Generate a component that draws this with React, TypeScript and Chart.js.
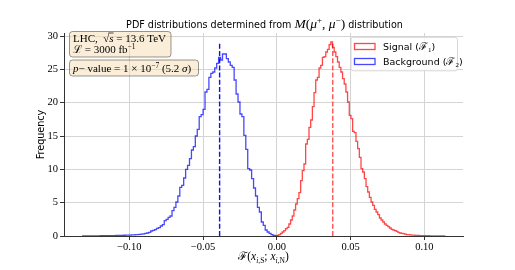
import React, { useEffect, useRef } from "react";
import { Chart, registerables } from "chart.js";
Chart.register(...registerables);

// ---------------- data ----------------
const BLUE_START = -0.1316;
const BLUE_WIDTH = 0.001316;
const BLUE_COUNTS = [
  0.02, 0.02, 0.02, 0.02, 0.03, 0.02, 0.03, 0.03, 0.03, 0.04,
  0.04, 0.05, 0.04, 0.05, 0.06, 0.06, 0.07, 0.08, 0.08, 0.09,
  0.10, 0.11, 0.12, 0.12, 0.14, 0.16, 0.18, 0.2, 0.22, 0.25,
  0.28, 0.33, 0.38, 0.45, 0.55, 0.75, 0.85, 0.95, 1.15, 1.25,
  1.5, 1.7, 2.3, 2.5, 2.8, 3.0, 3.8, 4.3, 5.1, 6.0,
  7.3, 7.6, 8.7, 10.0, 10.6, 11.6, 12.9, 13.4, 15.0, 16.0,
  17.9, 18.2, 19.0, 21.6, 22.0, 23.8, 24.4, 24.6, 25.2, 25.9,
  26.8, 26.4, 27.3, 27.3, 26.6, 26.1, 25.6, 25.3, 23.4, 21.3,
  20.1, 18.3, 17.9, 15.1, 13.0, 10.1, 9.9, 8.6, 7.2, 6.0,
  4.3, 3.6, 2.1, 1.6, 0.9, 0.6, 0.4, 0.2, 0.1, 0.05,
];
const RED_START = 0.0002;
const RED_WIDTH = 0.001137;
const RED_COUNTS = [
  0.1, 0.2, 0.4, 0.6, 0.8, 1.1, 1.3, 1.8, 2.4, 3.0,
  3.9, 4.8, 5.6, 6.5, 8.3, 9.8, 10.8, 13.8, 14.5, 16.3,
  17.4, 19.4, 21.5, 23.4, 23.8, 25.2, 25.6, 26.8, 26.9, 27.6,
  28.0, 28.7, 29.1, 28.3, 27.6, 26.9, 26.1, 25.3, 24.6, 23.6,
  22.8, 21.6, 20.1, 18.1, 17.6, 15.7, 15.5, 14.2, 13.1, 11.8,
  10.1, 9.6, 8.6, 7.4, 6.6, 5.8, 5.1, 4.6, 4.0, 3.6,
  3.2, 2.7, 2.4, 2.1, 1.8, 1.6, 1.4, 1.2, 1.0, 0.9,
  0.8, 0.7, 0.55, 0.45, 0.4, 0.35, 0.28, 0.22, 0.2, 0.17,
  0.14, 0.12, 0.1, 0.09, 0.08, 0.07, 0.06, 0.05, 0.05, 0.04,
  0.04, 0.03, 0.03, 0.03, 0.02, 0.02, 0.02, 0.02, 0.01, 0.01,
];
const BLUE_MEAN = -0.0388;
const RED_MEAN = 0.0379;
const X_MIN = -0.1443;
const X_MAX = 0.1262;
const Y_MIN = 0;
const Y_MAX = 30.45;
const X_TICKS = [-0.1, -0.05, 0, 0.05, 0.1];
const Y_TICKS = [0, 5, 10, 15, 20, 25, 30];

// ---------------- styles ----------------
const SANS = '"DejaVu Sans"';
const SERIF = '"Liberation Serif"';
const BLUE = "rgba(0,0,255,0.72)";
const RED = "rgba(255,0,0,0.72)";

function stepPoints(start: number, width: number, counts: number[]) {
  const pts: { x: number; y: number }[] = [{ x: start, y: 0 }];
  counts.forEach((c, i) => pts.push({ x: start + i * width, y: c }));
  pts.push({ x: start + counts.length * width, y: 0 });
  return pts;
}

type Seg = { t: string; fam: string; size: number; italic?: boolean; dy?: number };
const fontStr = (s: Seg) => `${s.italic ? "italic " : ""}${s.size}px ${s.fam}`;
function measure(ctx: CanvasRenderingContext2D, segs: Seg[]) {
  let w = 0;
  for (const s of segs) {
    ctx.font = fontStr(s);
    w += ctx.measureText(s.t).width;
  }
  return w;
}
function drawRich(ctx: CanvasRenderingContext2D, segs: Seg[], x: number, y: number, align: "left" | "center") {
  const w = measure(ctx, segs);
  let cx = align === "center" ? x - w / 2 : x;
  ctx.textAlign = "left";
  ctx.textBaseline = "alphabetic";
  const xs: number[] = [];
  for (const s of segs) {
    ctx.font = fontStr(s);
    xs.push(cx);
    ctx.fillText(s.t, cx, y + (s.dy || 0));
    cx += ctx.measureText(s.t).width;
  }
  xs.push(cx);
  return xs;
}
function roundRect(ctx: CanvasRenderingContext2D, x: number, y: number, w: number, h: number, r: number) {
  ctx.beginPath();
  ctx.moveTo(x + r, y);
  ctx.lineTo(x + w - r, y);
  ctx.quadraticCurveTo(x + w, y, x + w, y + r);
  ctx.lineTo(x + w, y + h - r);
  ctx.quadraticCurveTo(x + w, y + h, x + w - r, y + h);
  ctx.lineTo(x + r, y + h);
  ctx.quadraticCurveTo(x, y + h, x, y + h - r);
  ctx.lineTo(x, y + r);
  ctx.quadraticCurveTo(x, y, x + r, y);
  ctx.closePath();
}

const fmtX = (v: number) => {
  const s = Math.abs(v).toFixed(2);
  return v < -1e-9 ? "\u2212" + s : s;
};

const annotPlugin = {
  id: "annot",
  afterDraw(chart: any) {
    const ctx: CanvasRenderingContext2D = chart.ctx;
    const a = chart.chartArea;
    ctx.save();
    ctx.fillStyle = "#000";

    // title
    drawRich(
      ctx,
      [
        { t: "PDF distributions determined from ", fam: SANS, size: 9.6 },
        { t: "M", fam: SERIF, size: 13.5, italic: true },
        { t: "(", fam: SERIF, size: 13.5 },
        { t: "\u03bc", fam: SERIF, size: 13.5, italic: true },
        { t: "+", fam: SERIF, size: 9, dy: -5 },
        { t: ", ", fam: SERIF, size: 13.5 },
        { t: "\u03bc", fam: SERIF, size: 13.5, italic: true },
        { t: "\u2212", fam: SERIF, size: 9, dy: -5 },
        { t: ")", fam: SERIF, size: 13.5 },
        { t: " distribution", fam: SANS, size: 9.6 },
      ],
      264.5,
      28.3,
      "center"
    );

    // x title
    drawRich(
      ctx,
      [
        { t: "\u2131", fam: SERIF, size: 11.5 },
        { t: "(", fam: SERIF, size: 11.5 },
        { t: "x", fam: SERIF, size: 11.5, italic: true },
        { t: "i", fam: SERIF, size: 7.5, italic: true, dy: 2.5 },
        { t: ",S", fam: SERIF, size: 7.5, dy: 2.5 },
        { t: "; ", fam: SERIF, size: 11.5 },
        { t: "x", fam: SERIF, size: 11.5, italic: true },
        { t: "i", fam: SERIF, size: 7.5, italic: true, dy: 2.5 },
        { t: ",N", fam: SERIF, size: 7.5, dy: 2.5 },
        { t: ")", fam: SERIF, size: 11.5 },
      ],
      (a.left + a.right) / 2,
      260,
      "center"
    );

    // y title
    ctx.save();
    ctx.translate(41, (a.top + a.bottom) / 2);
    ctx.rotate(-Math.PI / 2);
    ctx.font = `9.6px ${SANS}`;
    ctx.textAlign = "center";
    ctx.textBaseline = "middle";
    ctx.fillText("Frequency", 0, 0);
    ctx.restore();

    // text boxes
    const boxFill = "rgba(245,222,179,0.5)";
    const boxEdge = "rgba(0,0,0,0.4)";
    ctx.lineWidth = 1;
    roundRect(ctx, a.left + 5.5, a.top - 1.5, 101.5, 25.5, 3);
    ctx.fillStyle = boxFill;
    ctx.fill();
    ctx.strokeStyle = boxEdge;
    ctx.stroke();
    roundRect(ctx, a.left + 5.5, a.top + 27, 129, 16, 3);
    ctx.fillStyle = boxFill;
    ctx.fill();
    ctx.strokeStyle = boxEdge;
    ctx.stroke();

    ctx.fillStyle = "#000";
    const tx = a.left + 9;
    const xs = drawRich(
      ctx,
      [
        { t: "LHC,  ", fam: SERIF, size: 11 },
        { t: "\u221a", fam: SERIF, size: 11 },
        { t: "s", fam: SERIF, size: 11, italic: true },
        { t: " = 13.6 TeV", fam: SERIF, size: 11 },
      ],
      tx,
      a.top + 8.5,
      "left"
    );
    ctx.strokeStyle = "#000";
    ctx.lineWidth = 0.7;
    ctx.beginPath();
    ctx.moveTo(xs[1] + 5, a.top + 8.5 - 8.5);
    ctx.lineTo(xs[3], a.top + 8.5 - 8.5);
    ctx.stroke();
    drawRich(
      ctx,
      [
        { t: "\u2112", fam: SERIF, size: 11 },
        { t: " = 3000 fb", fam: SERIF, size: 11 },
        { t: "\u22121", fam: SERIF, size: 7.5, dy: -4 },
      ],
      tx,
      a.top + 19.5,
      "left"
    );
    drawRich(
      ctx,
      [
        { t: "p", fam: SERIF, size: 11, italic: true },
        { t: "\u2212 value = 1 \u00d7 10", fam: SERIF, size: 11 },
        { t: "\u22127", fam: SERIF, size: 7.5, dy: -4 },
        { t: " (5.2 ", fam: SERIF, size: 11 },
        { t: "\u03c3", fam: SERIF, size: 11, italic: true },
        { t: ")", fam: SERIF, size: 11 },
      ],
      tx,
      a.top + 39,
      "left"
    );

    // legend
    const lx = 351,
      ly = 37.3,
      lw = 106.5,
      lh = 33.5;
    roundRect(ctx, lx, ly, lw, lh, 2.5);
    ctx.fillStyle = "rgba(255,255,255,0.85)";
    ctx.fill();
    ctx.strokeStyle = "#d6d6d6";
    ctx.lineWidth = 1;
    ctx.stroke();
    const entries = [
      { c: RED, n: "1", label: "Signal (", y: 43 },
      { c: BLUE, n: "2", label: "Background (", y: 58 },
    ];
    for (const e of entries) {
      ctx.strokeStyle = e.c;
      ctx.lineWidth = 1.3;
      ctx.strokeRect(354.5, e.y + 0.5, 20.5, 6);
      ctx.fillStyle = "#000";
      drawRich(
        ctx,
        [
          { t: e.label, fam: SANS, size: 9.5 },
          { t: "\u2131", fam: SERIF, size: 10.5 },
          { t: e.n, fam: SERIF, size: 7, dy: 2 },
          { t: ")", fam: SANS, size: 9.5 },
        ],
        383,
        e.y + 6.8,
        "left"
      );
    }
    ctx.restore();
  },
};

export default function App() {
  const ref = useRef<HTMLCanvasElement | null>(null);
  useEffect(() => {
    if (!ref.current) return;
    const topY = Y_MIN + (Y_MAX - Y_MIN) * 0.95;
    const chart = new Chart(ref.current, {
      type: "line",
      data: {
        datasets: [
          {
            data: stepPoints(RED_START, RED_WIDTH, RED_COUNTS),
            borderColor: RED,
            borderWidth: 1.3,
            stepped: "before",
            pointRadius: 0,
            fill: false,
          },
          {
            data: stepPoints(BLUE_START, BLUE_WIDTH, BLUE_COUNTS),
            borderColor: BLUE,
            borderWidth: 1.3,
            stepped: "before",
            pointRadius: 0,
            fill: false,
          },
          {
            data: [
              { x: BLUE_MEAN, y: 0 },
              { x: BLUE_MEAN, y: topY },
            ],
            borderColor: "rgba(0,0,255,0.95)",
            borderWidth: 1.4,
            borderDash: [5, 2.2],
            pointRadius: 0,
          },
          {
            data: [
              { x: RED_MEAN, y: 0 },
              { x: RED_MEAN, y: topY },
            ],
            borderColor: "rgba(255,40,40,0.8)",
            borderWidth: 1.4,
            borderDash: [5, 2.2],
            pointRadius: 0,
          },
        ],
      } as any,
      options: {
        responsive: false,
        animation: false,
        events: [],
        layout: { padding: { top: 33, right: 52, left: 0, bottom: 0 }, autoPadding: false } as any,
        plugins: {
          legend: { display: false },
          title: { display: false },
          tooltip: { enabled: false },
        },
        scales: {
          x: {
            type: "linear",
            min: X_MIN,
            max: X_MAX,
            afterFit: (s: any) => {
              s.height = 34;
            },
            afterBuildTicks: (s: any) => {
              s.ticks = X_TICKS.map((v) => ({ value: v }));
            },
            ticks: {
              font: { family: SERIF, size: 10.5 },
              color: "#000",
              padding: 1,
              maxRotation: 0,
              autoSkip: false,
              callback: (v: any) => fmtX(Number(v)),
            },
            grid: { color: "#d4d4d4", tickColor: "#333", tickLength: 4, lineWidth: 1 },
            border: { display: true, color: "#333", width: 1 },
          },
          y: {
            type: "linear",
            min: Y_MIN,
            max: Y_MAX,
            afterFit: (s: any) => {
              s.width = 64;
            },
            afterBuildTicks: (s: any) => {
              s.ticks = Y_TICKS.map((v) => ({ value: v }));
            },
            ticks: {
              font: { family: SERIF, size: 10.5 },
              color: "#000",
              padding: 2,
              autoSkip: false,
              callback: (v: any) => String(Math.round(Number(v))),
            },
            grid: { color: "#d4d4d4", tickColor: "#333", tickLength: 4, lineWidth: 1 },
            border: { display: true, color: "#333", width: 1 },
          },
        },
      } as any,
      plugins: [annotPlugin],
    });
    return () => chart.destroy();
  }, []);
  return (
    <div style={{ position: "fixed", left: 0, top: 0, width: 515, height: 270, background: "#fff" }}>
      <canvas ref={ref} width={515} height={270} style={{ display: "block", width: 515, height: 270 }} />
    </div>
  );
}
